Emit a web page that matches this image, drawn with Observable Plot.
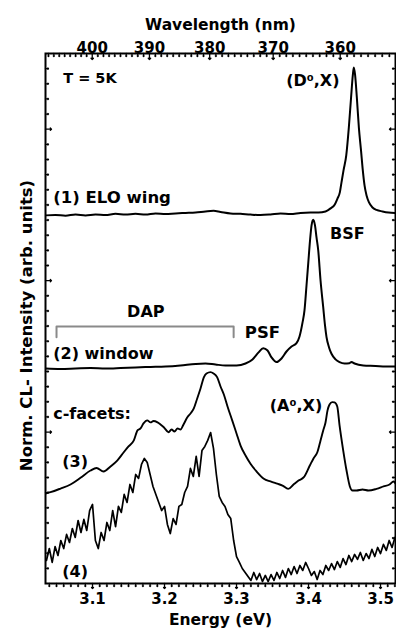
<!DOCTYPE html>
<html><head><meta charset="utf-8">
<script src="https://cdn.jsdelivr.net/npm/d3@7"></script>
<script src="https://cdn.jsdelivr.net/npm/@observablehq/plot@0.6"></script>
<style>html,body{margin:0;padding:0;background:#fff}</style>
</head><body><div id="chart"></div>
<script>
// ---- data: [energy (eV), normalized CL intensity] ----
const eloWing = [
[3.0347,2.431],[3.0486,2.434],[3.0625,2.429],[3.0764,2.437],[3.0903,2.431],[3.1042,2.437],[3.1181,2.433],
[3.1319,2.441],[3.1458,2.436],[3.1597,2.441],[3.1736,2.437],[3.1875,2.444],[3.2014,2.440],[3.2153,2.444],
[3.2292,2.447],[3.2431,2.450],[3.2569,2.457],[3.2681,2.461],[3.2778,2.454],[3.2917,2.444],[3.3056,2.441],
[3.3194,2.436],[3.3333,2.433],[3.3472,2.437],[3.3611,2.444],[3.3750,2.440],[3.3889,2.447],[3.4028,2.450],
[3.4139,2.450],[3.4236,2.457],[3.4306,2.477],[3.4365,2.503],[3.4403,2.543],[3.4435,2.583],[3.4458,2.649],
[3.4486,2.728],[3.4524,2.827],[3.4560,3.012],[3.4590,3.203],[3.4615,3.355],[3.4629,3.408],[3.4646,3.362],
[3.4671,3.210],[3.4699,3.012],[3.4729,2.860],[3.4754,2.728],[3.4778,2.629],[3.4806,2.563],[3.4840,2.517],
[3.4889,2.483],[3.4944,2.467],[3.5028,2.457],[3.5111,2.450],[3.5208,2.447]
];
const window2 = [
[3.0347,1.420],[3.0556,1.417],[3.0764,1.420],[3.0972,1.423],[3.1181,1.420],[3.1389,1.423],[3.1597,1.427],
[3.1806,1.430],[3.2014,1.433],[3.2222,1.440],[3.2431,1.450],[3.2569,1.453],[3.2708,1.446],[3.2847,1.440],
[3.3000,1.440],[3.3125,1.453],[3.3222,1.480],[3.3306,1.526],[3.3371,1.554],[3.3431,1.539],[3.3486,1.493],
[3.3556,1.462],[3.3625,1.486],[3.3694,1.532],[3.3764,1.565],[3.3833,1.587],[3.3875,1.631],[3.3917,1.724],
[3.3944,1.803],[3.3972,1.968],[3.3996,2.114],[3.4021,2.266],[3.4042,2.365],[3.4065,2.402],[3.4090,2.365],
[3.4111,2.285],[3.4135,2.199],[3.4167,2.001],[3.4204,1.825],[3.4229,1.704],[3.4250,1.627],[3.4285,1.559],
[3.4319,1.517],[3.4375,1.480],[3.4431,1.462],[3.4500,1.453],[3.4569,1.455],[3.4597,1.463],[3.4639,1.453],
[3.4760,1.440],[3.4931,1.437],[3.5069,1.433],[3.5208,1.433]
];
const cFacet3 = [
[3.0347,0.594],[3.0417,0.603],[3.0556,0.627],[3.0694,0.654],[3.0833,0.698],[3.0972,0.746],[3.1056,0.763],
[3.1153,0.740],[3.1250,0.773],[3.1343,0.812],[3.1431,0.865],[3.1500,0.905],[3.1574,0.945],[3.1625,1.011],
[3.1667,1.024],[3.1708,1.057],[3.1760,1.077],[3.1806,1.064],[3.1847,1.073],[3.1903,1.064],[3.1944,1.050],
[3.1990,1.032],[3.2056,0.999],[3.2097,1.017],[3.2139,1.004],[3.2181,1.024],[3.2222,1.017],[3.2264,1.050],
[3.2315,1.096],[3.2361,1.123],[3.2407,1.156],[3.2454,1.222],[3.2500,1.288],[3.2546,1.361],[3.2583,1.387],
[3.2639,1.396],[3.2681,1.387],[3.2732,1.361],[3.2778,1.301],[3.2824,1.248],[3.2875,1.169],[3.2940,1.077],
[3.3000,0.991],[3.3056,0.911],[3.3125,0.845],[3.3194,0.791],[3.3278,0.740],[3.3379,0.692],[3.3472,0.674],
[3.3565,0.659],[3.3639,0.647],[3.3718,0.625],[3.3792,0.654],[3.3861,0.680],[3.3935,0.702],[3.4018,0.779],
[3.4069,0.826],[3.4121,0.865],[3.4167,0.945],[3.4204,1.011],[3.4236,1.063],[3.4264,1.143],[3.4292,1.182],
[3.4329,1.198],[3.4361,1.196],[3.4399,1.169],[3.4431,1.044],[3.4482,0.878],[3.4528,0.746],[3.4574,0.641],
[3.4611,0.614],[3.4667,0.614],[3.4750,0.621],[3.4833,0.614],[3.4944,0.625],[3.5042,0.641],[3.5125,0.654],
[3.5181,0.674],[3.5208,0.661]
];
const cFacet4 = [
[3.036,0.152],[3.040,0.231],[3.044,0.139],[3.048,0.244],[3.052,0.185],[3.056,0.284],[3.060,0.231],
[3.064,0.324],[3.068,0.271],[3.072,0.363],[3.076,0.304],[3.080,0.416],[3.084,0.337],[3.088,0.423],
[3.092,0.350],[3.096,0.482],[3.100,0.522],[3.104,0.284],[3.108,0.231],[3.112,0.337],[3.116,0.284],
[3.120,0.403],[3.124,0.350],[3.128,0.482],[3.132,0.376],[3.136,0.509],[3.140,0.469],[3.144,0.588],
[3.148,0.535],[3.152,0.654],[3.156,0.601],[3.160,0.720],[3.164,0.694],[3.168,0.786],[3.172,0.826],
[3.176,0.799],[3.180,0.720],[3.184,0.641],[3.188,0.588],[3.192,0.535],[3.196,0.482],[3.200,0.509],
[3.204,0.390],[3.208,0.330],[3.212,0.429],[3.216,0.390],[3.220,0.509],[3.224,0.522],[3.228,0.601],
[3.232,0.641],[3.236,0.760],[3.240,0.707],[3.244,0.839],[3.248,0.707],[3.252,0.878],[3.256,0.905],
[3.260,0.945],[3.264,0.997],[3.268,0.892],[3.272,0.720],[3.276,0.575],[3.280,0.535],[3.284,0.509],
[3.288,0.456],[3.292,0.429],[3.296,0.284],[3.300,0.178],[3.304,0.139],[3.308,0.099],[3.312,0.073],
[3.316,0.046],[3.320,0.020],[3.324,0.073],[3.328,0.026],[3.332,0.066],[3.336,0.013],[3.340,0.053],
[3.344,0.013],[3.348,0.059],[3.352,0.020],[3.356,0.073],[3.360,0.033],[3.364,0.086],[3.368,0.040],
[3.372,0.099],[3.376,0.059],[3.380,0.112],[3.384,0.066],[3.388,0.119],[3.392,0.086],[3.396,0.139],
[3.400,0.099],[3.404,0.053],[3.408,0.079],[3.412,0.026],[3.416,0.086],[3.420,0.059],[3.424,0.119],
[3.428,0.086],[3.432,0.132],[3.436,0.092],[3.440,0.145],[3.444,0.106],[3.448,0.165],[3.452,0.125],
[3.456,0.185],[3.460,0.145],[3.464,0.192],[3.468,0.159],[3.472,0.205],[3.476,0.152],[3.480,0.198],
[3.484,0.165],[3.488,0.225],[3.492,0.178],[3.496,0.238],[3.500,0.198],[3.504,0.258],[3.508,0.218],
[3.512,0.284],[3.516,0.238],[3.520,0.304]
];
// DAP bracket (energy range, intensity level)
const dapBracket = [[3.050,1.627],[3.050,1.697],[3.296,1.697],[3.296,1.627]];

// ticks
const energyTicks = [3.1, 3.2, 3.3, 3.4, 3.5];
const wavelengthTicks = [400, 390, 380, 370, 360];
const intensityMajor = [1, 2, 3];

// text labels
const xTitle = "Energy (eV)";
const topTitle = "Wavelength (nm)";
const yTitle = "Norm. CL- Intensity (arb. units)";
const annotations = [
  {text: "T = 5K", E: 3.0593, I: 3.337, anchor: "start", size: 14.5},
  {text: "(D\u2070,X)", E: 3.443, I: 3.322, anchor: "end", size: 16},
  {text: "(1) ELO wing", E: 3.0454, I: 2.55, anchor: "start", size: 16.5},
  {text: "BSF", E: 3.454, I: 2.31, anchor: "middle", size: 16},
  {text: "DAP", E: 3.174, I: 1.795, anchor: "middle", size: 16},
  {text: "PSF", E: 3.336, I: 1.655, anchor: "middle", size: 16.5},
  {text: "(2) window", E: 3.0454, I: 1.515, anchor: "start", size: 16},
  {text: "c-facets:", E: 3.0454, I: 1.123, anchor: "start", size: 16},
  {text: "(A\u2070,X)", E: 3.419, I: 1.172, anchor: "end", size: 16},
  {text: "(3)", E: 3.0579, I: 0.803, anchor: "start", size: 16},
  {text: "(4)", E: 3.0579, I: 0.076, anchor: "start", size: 16}
];

const HC = 1239.84;
const rows = a => a.map(([E, I]) => ({E, I}));
const energyMinor = d3.range(304, 353).map(i => i / 100).filter(e => !energyTicks.some(t => Math.abs(t - e) < 1e-6));
const wlMinor = d3.range(353, 409).filter(l => !wavelengthTicks.includes(l));
const yMinor = d3.range(1, 35).map(i => i / 10).filter(v => !intensityMajor.some(t => Math.abs(t - v) < 1e-6));

const lineOpts = {x: "E", y: "I", stroke: "black", strokeWidth: 2, curve: "monotone-x", clip: true};
const tick = (data, opts) => Plot.vector(data, {anchor: "start", stroke: "black", strokeWidth: 1.3, ...opts});
const annot = anchor => Plot.text(annotations.filter(d => d.anchor === anchor),
  {x: "E", y: "I", text: "text", textAnchor: anchor, fontSize: "size"});

const chart = Plot.plot({
  width: 396, height: 637,
  marginLeft: 45, marginRight: 1, marginTop: 53, marginBottom: 54,
  x: {domain: [3.0347, 3.5208], axis: null},
  y: {domain: [0, 3.5], axis: null},
  style: {fontFamily: "'DejaVu Sans', sans-serif", fontWeight: "bold", background: "white", color: "black"},
  marks: [
    Plot.line(rows(eloWing), lineOpts),
    Plot.line(rows(window2), lineOpts),
    Plot.line(rows(cFacet3), {...lineOpts, strokeWidth: 1.9}),
    Plot.line(rows(cFacet4), {...lineOpts, curve: "linear", strokeWidth: 1.7}),
    Plot.line(rows(dapBracket), {x: d => d.E, y: d => d.I, stroke: "#8a8a8a", strokeWidth: 2}),
    // ticks
    tick(energyMinor, {x: d => d, frameAnchor: "bottom", rotate: 180, length: 3}),
    tick(energyTicks, {x: d => d, frameAnchor: "bottom", rotate: 180, length: 5}),
    tick(wlMinor, {x: l => HC / l, frameAnchor: "top", rotate: 180, length: 3}),
    tick(wavelengthTicks, {x: l => HC / l, frameAnchor: "top", rotate: 180, length: 6}),
    tick(yMinor, {y: d => d, frameAnchor: "left", rotate: 90, length: 3}),
    tick(intensityMajor, {y: d => d, frameAnchor: "left", rotate: 90, length: 6}),
    tick(yMinor, {y: d => d, frameAnchor: "right", rotate: -90, length: 3}),
    tick(intensityMajor, {y: d => d, frameAnchor: "right", rotate: -90, length: 6}),
    Plot.frame({stroke: "black", strokeWidth: 2}),
    // axis labels
    Plot.text(energyTicks, {x: d => d, text: d => d.toFixed(1), frameAnchor: "bottom", dy: 20, fontSize: 15}),
    Plot.text([xTitle], {text: d => d, frameAnchor: "bottom", dy: 41, fontSize: 15.5}),
    Plot.text(wavelengthTicks, {x: l => HC / l, text: d => String(d), frameAnchor: "top", dy: -11.5, fontSize: 15}),
    Plot.text([topTitle], {text: d => d, frameAnchor: "top", dy: -35, fontSize: 15.5}),
    Plot.text([yTitle], {text: d => d, frameAnchor: "left", textAnchor: "middle", dx: -19, dy: 7, rotate: -90, fontSize: 16.5}),
    // annotations
    annot("start"), annot("middle"), annot("end")
  ]
});
document.getElementById("chart").append(chart);
</script>
</body></html>
